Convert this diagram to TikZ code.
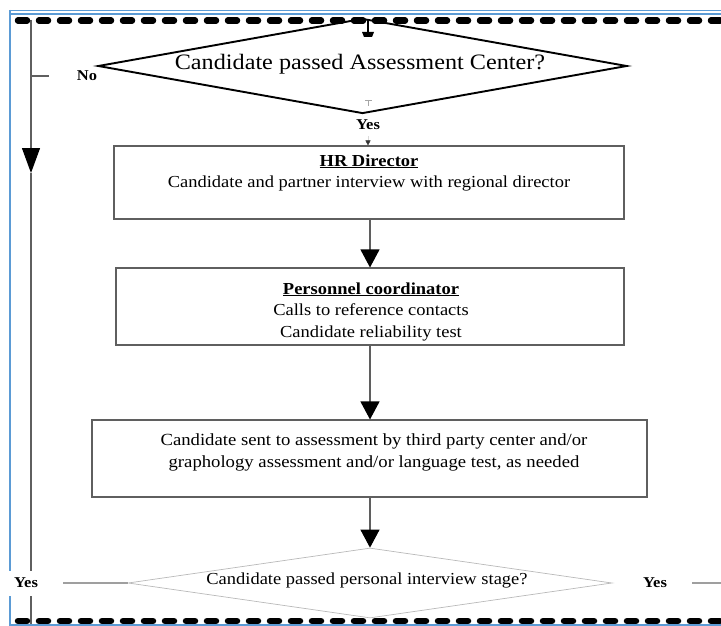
\documentclass[tikz,border=0pt]{standalone}
\usepackage{fontspec}
\setmainfont[FakeStretch=1.1]{Liberation Serif}
\usetikzlibrary{arrows.meta,shapes.geometric}
\definecolor{frameblue}{RGB}{91,155,213}
\definecolor{linegray}{RGB}{95,95,95}
% bold heading with a heavier underline
\newcommand\headline[1]{\setbox0\hbox{\bfseries #1}\rlap{\rule[-2.2pt]{\wd0}{1.2pt}}\box0}
\begin{document}
\begin{tikzpicture}[x=1pt,y=-1pt,
  stepbox/.style={draw=linegray, line width=1.1pt, inner sep=0pt},
  boxtext/.style={align=center, inner sep=0pt, anchor=north, font=\fontsize{16.8}{21.5}\selectfont},
  question/.style={diamond, inner sep=0pt},
  flowlabel/.style={inner sep=0pt, font=\fontsize{15}{16}\selectfont\bfseries},
  conn/.style={draw=linegray, line width=1.1pt, -{Triangle[width=19pt,length=18pt,color=black]}},
  plainline/.style={draw=linegray, line width=1.1pt},
  dashline/.style={line width=6.5pt, line cap=round, dash pattern=on 9pt off 12pt},
  frameline/.style={draw=frameblue, line width=1.4pt}
]
\useasboundingbox (0,0) rectangle (721,626);

% page frame
\draw[frameline] (10,10.5) -- (721,10.5);
\draw[frameline] (10,14) -- (721,14);
\draw[frameline] (10,10) -- (10,626);

% left return line
\coordinate (lt) at (31,20);
\coordinate (la) at (31,173);
\coordinate (lb) at (31,626);
\draw[plainline, -{Triangle[width=18pt,length=25pt,color=black]}] (lt) -- (la);
\draw[plainline] (la) -- (lb);
\coordinate (noA) at (31,76);
\coordinate (noB) at (49,76);
\draw[plainline] (noA) -- (noB);

% first decision
\node[question, draw=black, line width=1.9pt, minimum width=529pt, minimum height=95pt] (q1) at (362.5,66) {};
\node[inner sep=0pt, anchor=base, font=\fontsize{22}{24}\selectfont] (q1t) at (360,70) {Candidate passed Assessment Center?};
\node[flowlabel] (no) at (87,76) {No};

% incoming stub at the top of the first decision
\coordinate (inA) at (368,20);
\coordinate (inB) at (368,32);
\draw[line width=1.2pt] (inA) -- (inB);
\fill (362,32) -- (374,32) -- (372,37) -- (364,37) -- cycle;

% process boxes
\node[stepbox, minimum width=510pt, minimum height=73pt] (hr) at (369,182.5) {};
\node[boxtext] (hrt) at (369,154) {\rule{0pt}{12pt}\headline{HR Director}\\Candidate and partner interview with regional director};

\node[stepbox, minimum width=508pt, minimum height=77pt] (pc) at (370,306.5) {};
\node[boxtext] (pct) at (371,282) {\rule{0pt}{12pt}\headline{Personnel coordinator}\\Calls to reference contacts\\Candidate reliability test};

\node[stepbox, minimum width=555pt, minimum height=77pt] (as) at (369.5,458.5) {};
\node[boxtext, font=\fontsize{17}{22}\selectfont] (ast) at (374,433.5) {\rule{0pt}{12pt}Candidate sent to assessment by third party center and/or\\graphology assessment and/or language test, as needed};

% second decision
\node[question, draw=gray!55, line width=0.7pt, minimum width=484pt, minimum height=70pt] (q2) at (370,583) {};
\node[inner sep=0pt, anchor=base, font=\fontsize{16.8}{20}\selectfont] (q2t) at (367,584) {Candidate passed personal interview stage?};

% "Yes" from the first decision
\coordinate (tkA) at (365,100);
\coordinate (tkB) at (372,100);
\coordinate (tkC) at (368,100);
\coordinate (tkD) at (368,106);
\draw[gray!70, line width=0.6pt] (tkA) -- (tkB) (tkC) -- (tkD);
\node[flowlabel] (yesT) at (368,125) {Yes};
\draw[draw=gray!30, line width=0.5pt, -{Triangle[width=5pt,length=5pt,color=black!80]}] (yesT.south) ++(0,6) coordinate (ys) (ys) -- (hr.north -| ys);

% connectors between steps
\draw[conn] (hr.south -| 370,0) -- (pc.north -| 370,0);
\draw[conn] (pc.south -| 370,0) -- (as.north -| 370,0);
\draw[conn] (as.south -| 370,0) -- (q2.north);

% exits of the second decision
\coordinate (yl) at (63,583);
\draw[draw=gray!75, line width=1.1pt] (q2.west) -- (yl);
\node[flowlabel, fill=white, minimum width=34pt, minimum height=25pt] (yesL) at (26,583) {Yes};
\node[flowlabel] (yesR) at (655,583) {Yes};
\coordinate (yr1) at (692,583);
\coordinate (yr2) at (721,583);
\draw[draw=gray!75, line width=1.1pt] (yr1) -- (yr2);

% heavy dashed rules
\draw[dashline] (18,20.5) -- (721,20.5);
\draw[dashline] (18,621) -- (721,621);
\draw[draw=frameblue, line width=2pt] (10,625) -- (721,625);
\end{tikzpicture}
\end{document}
